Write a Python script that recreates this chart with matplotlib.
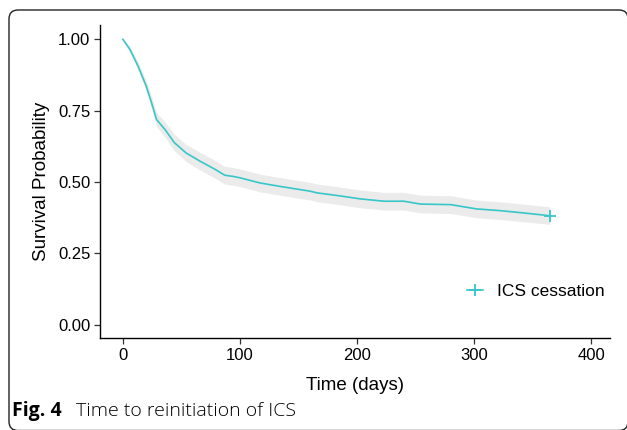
import matplotlib
matplotlib.use("Agg")
from matplotlib import pyplot as plt
from matplotlib.patches import FancyBboxPatch
from matplotlib.lines import Line2D

# Kaplan-Meier estimate (days, survival probability, 95% CI)
days = [0, 6, 13, 20, 24.5, 28.8, 36, 44, 54, 66, 79, 87, 94, 100, 117, 134,
        160, 166, 183, 203, 223, 240, 254, 280, 302, 322, 342, 365]
surv = [1.0, 0.965, 0.906, 0.836, 0.778, 0.719, 0.684, 0.638, 0.602, 0.573,
        0.544, 0.524, 0.520, 0.515, 0.497, 0.485, 0.468, 0.462, 0.453, 0.441,
        0.433, 0.433, 0.423, 0.421, 0.406, 0.400, 0.392, 0.382]
lower = [1.0, 0.956, 0.892, 0.818, 0.757, 0.695, 0.657, 0.609, 0.572, 0.542,
         0.513, 0.493, 0.489, 0.484, 0.466, 0.454, 0.437, 0.431, 0.422, 0.410,
         0.402, 0.402, 0.392, 0.390, 0.375, 0.369, 0.361, 0.352]
upper = [1.0, 0.974, 0.920, 0.854, 0.799, 0.743, 0.711, 0.667, 0.632, 0.604,
         0.575, 0.555, 0.551, 0.546, 0.528, 0.516, 0.499, 0.493, 0.484, 0.472,
         0.464, 0.464, 0.454, 0.452, 0.437, 0.431, 0.423, 0.413]
censor_day = [365]
censor_surv = [0.382]

group_label = "ICS cessation"
x_ticks = [0, 100, 200, 300, 400]
y_ticks = [0.0, 0.25, 0.50, 0.75, 1.0]
y_ticklabels = ["0.00", "0.25", "0.50", "0.75", "1.00"]

line_color = "#38C6C8"
band_color = "#EBEBEB"

plt.rcParams["font.family"] = ["Liberation Sans", "DejaVu Sans"]

fig = plt.figure(figsize=(6.27, 4.30), dpi=100)
ax = fig.add_axes([100 / 627, 1 - 338 / 430, 510 / 627, 313 / 430])

ax.fill_between(days, lower, upper, color=band_color, lw=0)
ax.plot(days, surv, color=line_color, lw=1.2)
ax.plot(censor_day, censor_surv, ls="none", marker="+", ms=8, mew=1.3,
        color=line_color)

ax.set_xlim(-19.5, 416)
ax.set_ylim(-0.046, 1.05)
ax.set_xticks(x_ticks)
ax.set_yticks(y_ticks)
ax.set_yticklabels(y_ticklabels)

for side in ["top", "right"]:
    ax.spines[side].set_visible(False)
for side in ["left", "bottom"]:
    ax.spines[side].set_linewidth(1.0)
    ax.spines[side].set_color("black")
ax.tick_params(axis="both", length=4, width=0.9, color="#333333",
               labelsize=12, labelcolor="black", pad=3)

ax.set_xlabel("Time (days)", fontsize=13.5, labelpad=10)
ax.set_ylabel("Survival Probability", fontsize=13.5, labelpad=6)

handle = Line2D([], [], color=line_color, lw=1.2, marker="+", ms=8, mew=1.3)
ax.legend([handle], [group_label], loc="center right",
          bbox_to_anchor=(1.02, 0.15), frameon=False, fontsize=12.5,
          handlelength=0.9, handletextpad=0.8)

# rounded frame of the figure panel (right and bottom edges fall off the page)
frame = FancyBboxPatch((0.09, -0.005), 6.28 - 0.09, 4.20 + 0.005,
                       boxstyle="round,pad=0,rounding_size=0.09",
                       transform=fig.dpi_scale_trans, fill=False,
                       edgecolor="#222222", lw=1.0, clip_on=False)
fig.add_artist(frame)

fig.text(12 / 627, 1 - 411 / 430, "Fig. 4", fontsize=14, fontweight="bold",
         family=["Open Sans", "DejaVu Sans"], va="center", ha="left")
fig.text(76 / 627, 1 - 411 / 430, "Time to reinitiation of ICS", fontsize=14,
         family=["Open Sans", "DejaVu Sans"], va="center", ha="left",
         fontweight="light")

fig.savefig("out.png", dpi=100)
